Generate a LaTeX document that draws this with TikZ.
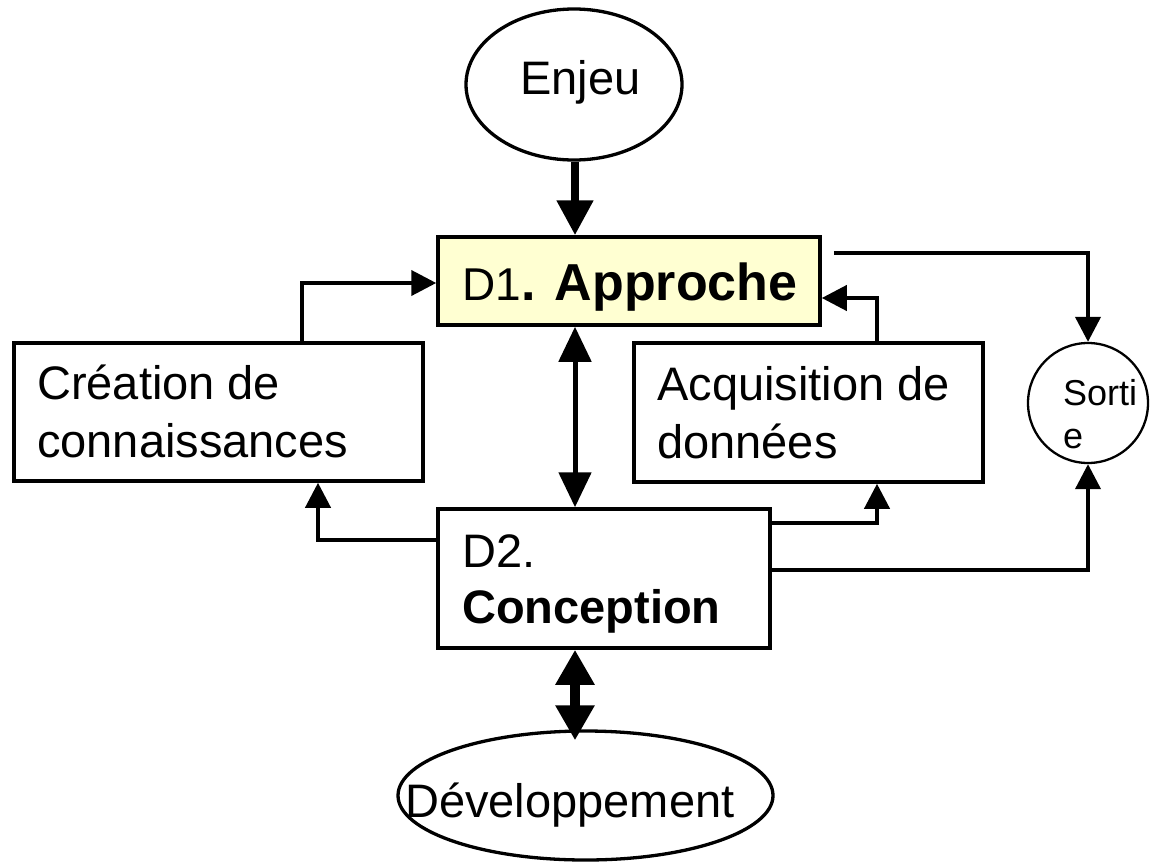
\documentclass[tikz,border=0pt]{standalone}
\usepackage{fontspec}
\setmainfont{Liberation Sans}
\usetikzlibrary{arrows.meta,shapes.geometric}
\definecolor{paleyellow}{HTML}{FFFFD2}
\begin{document}
\begin{tikzpicture}[x=1pt,y=-1pt,
  box/.style={draw, line width=3.5pt, rectangle, inner sep=0pt},
  oval/.style={draw, ellipse, inner sep=0pt, line width=3.3pt},
  lbl/.style={inner sep=0pt, anchor=base west, font=\fontsize{47}{56}\selectfont},
  conn/.style={line width=4pt, -{Triangle[length=25pt,width=25pt]}},
  bigarrow/.style={line width=8pt, -{Triangle[length=35pt,width=35pt]}},
  dblarrow/.style={line width=5pt, {Triangle[length=35pt,width=32pt]}-{Triangle[length=35pt,width=32pt]}},
  dblarrowb/.style={line width=10pt, {Triangle[length=35pt,width=37pt]}-{Triangle[length=35pt,width=37pt]}}
]
\useasboundingbox (0,0) rectangle (1150,865);

% shapes
\node[oval, minimum width=216pt, minimum height=151pt] (Enjeu) at (574,84.5) {};
\node[box, fill=paleyellow, minimum width=382pt, minimum height=88pt] (D1) at (629,281) {};
\node[box, minimum width=409pt, minimum height=138pt] (Cre) at (218.5,412) {};
\node[box, minimum width=349pt, minimum height=139pt] (Acq) at (808.5,412.5) {};
\node[box, minimum width=332pt, minimum height=139pt] (D2) at (604,578.5) {};
\node[draw, ellipse, inner sep=0pt, line width=2.3pt, minimum width=120pt, minimum height=120pt] (Sorti) at (1088,403) {};
\node[oval, minimum width=375pt, minimum height=129pt] (Dev) at (585.5,795.5) {};

% texts
\node[lbl] (tEnjeu) at (520,94) {Enjeu};
\node[lbl] (tD1) at (462,300) {\fontsize{46}{56}\selectfont D1\fontsize{52}{60}\selectfont\bfseries. Approche};
\node[lbl] (tCre1) at (37,399) {Création de};
\node[lbl] (tCre2) at (37,457) {connaissances};
\node[lbl] (tAcq1) at (657,400) {Acquisition de};
\node[lbl] (tAcq2) at (657,458) {données};
\node[lbl] (tD2a) at (462,567) {D2.};
\node[lbl, font=\fontsize{47}{56}\selectfont\bfseries] (tD2b) at (462,623) {Conception};
\node[lbl, font=\fontsize{36}{43}\selectfont] (tS1) at (1063,405) {Sorti};
\node[lbl, font=\fontsize{36}{43}\selectfont] (tS2) at (1063,448) {e};
\node[lbl] (tDev) at (405,817) {Développement};

% helper coordinates
\coordinate (ax) at (575,0);
\coordinate (devtop) at ([yshift=-11pt]Dev.north);
\coordinate (creUp) at ([xshift=83.5pt]Cre.north);
\coordinate (creIn) at ([xshift=99.5pt]Cre.south);
\coordinate (acqUp) at ([xshift=68.5pt]Acq.north);
\coordinate (acqIn) at ([xshift=68.5pt]Acq.south);
\coordinate (d1out) at ([xshift=12pt,yshift=28pt]D1.east);
\coordinate (d1in) at ([yshift=-17pt]D1.east);
\coordinate (d1inL) at ([yshift=-2pt]D1.west);
\coordinate (d2L) at ([yshift=38.5pt]D2.west);
\coordinate (d2R1) at ([xshift=-3pt,yshift=55.5pt]D2.east);
\coordinate (d2R2) at ([xshift=-3pt,yshift=8.5pt]D2.east);

% connectors
\draw[bigarrow] (ax |- Enjeu.south) -- (ax |- D1.north);
\draw[dblarrow] (ax |- D1.south) -- (ax |- D2.north);
\draw[dblarrowb] (ax |- D2.south) -- (ax |- devtop);
\draw[conn] (creUp) |- (d1inL);
\draw[conn] (d2L) -| (creIn);
\draw[conn] (d2R1) -| (acqIn);
\draw[conn] (acqUp) |- (d1in);
\draw[conn] (d1out) -| (Sorti.north);
\draw[conn] (d2R2) -| (Sorti.south);
\end{tikzpicture}
\end{document}
